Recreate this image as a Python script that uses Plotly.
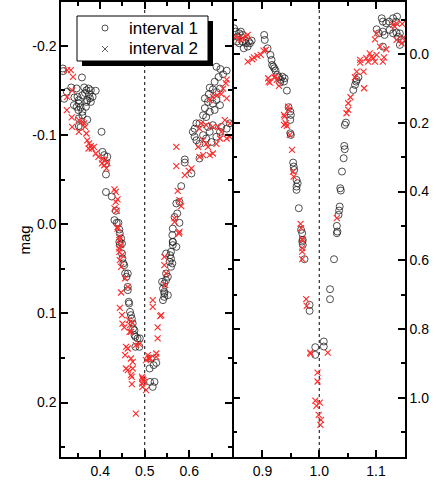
import plotly.graph_objects as go

# ---------------- data (phase, mag) ----------------
# left panel, interval 1 (open circles)
l1_x = [0.316,0.317,0.359,0.325,0.319,0.335,0.347,0.342,0.349,0.352,0.360,0.364,0.369,0.374,0.379,0.390,
        0.366,0.375,0.371,0.377,0.383,0.352,0.341,0.347,0.356,0.351,0.360,0.368,0.369,0.379,0.360,0.371,
        0.352,0.356,0.352,0.403,0.405,0.409,0.416,0.413,0.413,0.413,0.426,0.435,0.432,0.437,0.441,0.443,
        0.444,0.447,0.449,
        0.661,0.670,0.676,0.684,0.666,0.657,0.646,0.653,0.661,0.669,0.644,0.635,0.642,0.653,0.661,0.669,
        0.657,0.646,0.635,0.638,0.623,0.631,0.616,0.612,0.608,0.612,0.616,0.623,0.631,0.642,0.653,0.646,
        0.638,0.650,0.661,0.669,0.672,0.684,0.691,0.623,0.605,0.590,0.590,0.582,0.571,0.578,0.573,0.567,
        0.563,0.562,0.563,0.571,0.578,
        0.443,0.444,0.449,0.450,0.452,0.454,0.456,0.462,0.459,0.462,0.462,0.464,0.465,0.467,0.469,0.471,
        0.473,0.474,0.477,0.477,0.479,0.479,0.484,0.488,0.489,0.514,0.511,0.520,0.526,0.512,0.518,0.522,
        0.563,0.563,0.559,0.557,0.559,0.556,0.562,0.559,0.548,0.548,0.552,0.548,0.544,0.539,0.541,0.544,
        0.544,0.541,0.544,0.552]
l1_y = [-0.1745,-0.1715,-0.1644,-0.1484,-0.1405,-0.1532,-0.1521,-0.142,-0.1427,-0.139,-0.1446,-0.1532,-0.150,-0.152,-0.150,-0.1495,
        -0.147,-0.1457,-0.139,-0.141,-0.1427,-0.1353,-0.1334,-0.1315,-0.1308,-0.1278,-0.126,-0.1315,-0.137,-0.137,-0.122,-0.117,
        -0.1185,-0.109,-0.110,-0.1035,-0.081,-0.0774,-0.0755,-0.068,-0.0557,-0.036,-0.031,-0.015,-0.0045,-0.0015,-0.0015,0.006,
        0.0105,0.016,0.0217,
        -0.1764,-0.1738,-0.168,-0.172,-0.165,-0.1596,-0.153,-0.151,-0.148,-0.152,-0.1457,-0.141,-0.137,-0.135,-0.139,-0.1334,
        -0.128,-0.126,-0.130,-0.120,-0.113,-0.122,-0.113,-0.107,-0.1035,-0.098,-0.094,-0.090,-0.0998,-0.109,-0.111,-0.1035,
        -0.096,-0.092,-0.098,-0.1035,-0.109,-0.107,-0.113,-0.0736,-0.0568,-0.0725,-0.069,-0.0426,-0.0232,-0.025,-0.012,-0.008,
        0.005,0.0123,0.020,0.0254,-0.0015,
        0.0198,0.0235,0.0329,0.0385,0.044,0.046,0.0553,0.0553,0.059,0.0703,0.074,0.0871,0.089,0.0983,0.102,0.1058,
        0.1114,0.117,0.119,0.1244,0.1263,0.1375,0.128,0.1375,0.128,0.1506,0.1618,0.158,0.1555,0.1768,0.1824,0.1768,
        0.0198,0.0235,0.031,0.0348,0.0385,0.0422,0.044,0.0478,0.0329,0.0553,0.059,0.0628,0.0665,0.0646,0.0721,0.0759,
        0.0815,0.0852,0.0777,0.0796]

# left panel, interval 2 (crosses)
l2_x = [0.326,0.334,0.339,0.337,0.326,0.325,0.336,0.337,0.352,0.352,0.360,0.364,0.366,0.369,0.371,0.375,
        0.379,0.381,0.386,0.374,0.390,0.396,0.405,0.404,0.409,0.411,0.414,0.416,0.432,0.435,0.439,0.435,
        0.432,0.437,0.439,0.439,0.444,0.443,0.447,
        0.571,0.571,0.574,0.578,0.582,0.567,0.567,0.578,0.577,0.590,0.599,0.605,0.620,0.623,0.631,0.638,
        0.642,0.661,0.669,0.653,0.646,0.631,0.623,0.627,0.638,0.653,0.665,0.672,0.684,0.691,0.680,0.691,
        0.672,0.684,0.676,0.682,0.684,0.663,0.653,0.646,
        0.443,0.443,0.444,0.449,0.447,0.456,0.462,0.447,0.444,0.449,0.450,0.454,0.464,0.473,0.467,0.469,
        0.466,0.458,0.462,0.480,0.488,0.456,0.469,0.473,0.458,0.462,0.473,0.469,0.471,0.471,0.494,0.495,
        0.497,0.494,0.499,0.495,0.503,0.507,0.509,0.512,0.503,0.526,0.526,0.529,0.529,0.537,0.535,0.518,
        0.518,0.544,0.544,0.548,0.546,0.480]
l2_y = [-0.1726,-0.1726,-0.165,-0.150,-0.1427,-0.1278,-0.1196,-0.109,-0.1035,-0.1166,-0.1147,-0.113,-0.109,-0.1016,-0.094,-0.0904,
        -0.0874,-0.0848,-0.0867,-0.0848,-0.0792,-0.0755,-0.0725,-0.068,-0.066,-0.0717,-0.0624,-0.0688,-0.0389,-0.0362,-0.0277,-0.025,
        -0.0176,-0.015,0.003,0.0049,0.0142,0.018,0.0235,
        -0.0867,-0.065,-0.0374,-0.0269,-0.0202,-0.0064,-0.0026,0.0086,0.0105,-0.0549,-0.0598,-0.0624,-0.0867,-0.0755,-0.094,-0.090,
        -0.0867,-0.090,-0.096,-0.0792,-0.0774,-0.0774,-0.107,-0.113,-0.111,-0.109,-0.109,-0.1035,-0.096,-0.098,-0.1166,-0.113,
        -0.1457,-0.141,-0.152,-0.158,-0.162,-0.1446,-0.1427,-0.139,
        0.0273,0.031,0.0404,0.0348,0.0478,0.0609,0.0703,0.0766,0.0938,0.102,0.1114,0.1158,0.1076,0.1106,0.1132,0.1207,
        0.1207,0.1375,0.1394,0.1357,0.1345,0.1469,0.1506,0.1544,0.1618,0.1637,0.1618,0.1693,0.1712,0.1794,0.1712,0.173,
        0.1749,0.1786,0.1768,0.1824,0.1861,0.1469,0.1506,0.1506,0.1525,0.145,0.1487,0.128,0.1158,0.102,0.1031,0.0927,
        0.0852,0.046,0.0366,0.0553,0.0684,0.2123]

# right panel, interval 1 (open circles)
r1_x = [0.850,0.853,0.856,0.859,0.862,0.865,0.855,0.859,0.865,0.869,0.871,0.876,0.881,0.867,0.874,0.878,
        0.903,0.904,0.909,0.914,0.916,0.917,0.919,0.921,0.923,0.926,0.929,0.932,0.935,0.938,0.939,0.931,
        0.943,0.946,0.949,0.950,0.949,0.949,0.950,0.954,0.955,0.956,0.960,0.962,0.960,0.960,0.964,0.968,
        0.970,0.971,0.970,0.971,0.974,0.983,0.983,0.993,0.993,1.008,1.008,1.019,1.019,1.026,
        1.110,1.112,1.118,1.123,1.130,1.135,1.137,1.101,1.105,1.112,1.115,1.124,1.130,1.136,1.139,1.142,
        1.145,1.142,1.112,1.060,1.063,1.066,1.069,1.065,1.045,1.047,1.044,1.045,1.043,1.040,1.037,1.038,
        1.036,1.035,1.034,1.031,1.032,1.031]
r1_y = [-0.0746,-0.0649,-0.0504,-0.060,-0.065,-0.0552,-0.0359,-0.031,-0.0359,-0.0407,-0.031,-0.0359,-0.0388,-0.0165,-0.0213,-0.031,
        -0.0552,-0.0407,-0.0165,0.0029,0.0174,0.032,0.0368,0.0417,0.0484,0.061,0.0678,0.0756,0.0659,0.0804,0.0707,0.0833,
        0.1066,0.155,0.1676,0.1773,0.1919,0.2306,0.2355,0.3159,0.3275,0.3372,0.3663,0.376,0.3857,0.3953,0.4486,0.5116,
        0.5213,0.5407,0.5455,0.5552,0.5969,0.7297,0.7471,0.8527,0.875,0.8362,0.8508,0.6841,0.7132,0.5969,
        -0.1037,-0.094,-0.0891,-0.094,-0.1037,-0.094,-0.1085,-0.0717,-0.060,-0.0649,-0.0552,-0.0698,-0.060,-0.062,-0.0504,-0.060,
        -0.0407,-0.0262,-0.0213,0.1047,0.0901,0.0756,0.0678,0.0804,0.2064,0.1996,0.2674,0.2771,0.3033,0.342,0.3905,0.3973,
        0.4438,0.4554,0.468,0.50,0.5165,0.5213]

# right panel, interval 2 (crosses)
r2_x = [0.853,0.859,0.862,0.865,0.871,0.874,0.874,0.882,0.885,0.891,0.897,0.902,0.906,0.910,0.911,0.913,
        0.921,0.923,0.925,0.929,0.938,0.939,0.941,0.938,0.943,0.945,0.946,0.948,0.952,0.954,0.955,0.967,
        0.968,0.970,0.970,0.970,0.970,0.970,0.977,0.978,0.984,0.985,1.015,0.997,0.997,0.993,1.001,0.995,
        0.999,1.003,1.002,
        1.098,1.101,1.107,1.118,1.130,1.133,1.136,1.146,1.147,1.136,1.145,1.089,1.092,1.095,1.098,1.101,
        1.083,1.086,1.072,1.072,1.114,1.112,1.078,1.066,1.063,1.079,1.055,1.051,1.051,1.048,1.031]
r2_y = [-0.0504,-0.0455,-0.0407,-0.0455,-0.0504,-0.0552,0.0223,0.0155,0.0097,0.0058,0.0029,-0.0097,-0.0116,0.0707,0.0804,0.0833,
        0.0678,0.0659,0.0756,0.093,0.1773,0.1822,0.2016,0.2064,0.2093,0.1531,0.1628,0.2355,0.2791,0.342,0.3566,0.4942,
        0.5068,0.5388,0.5649,0.5407,0.5746,0.5969,0.7132,0.7326,0.8682,0.8721,0.8682,0.9264,0.9525,1.0078,1.0136,1.0233,
        1.0494,1.064,1.0785,
        -0.0426,-0.060,-0.0213,-0.0136,-0.0843,-0.0795,-0.0891,-0.0872,-0.0455,-0.0407,-0.031,-0.0019,0.0078,0.0126,0.0223,0.0029,
        0.0126,0.0223,0.0174,0.0252,0.0097,0.0223,0.0514,0.0514,0.0678,0.0998,0.126,0.1434,0.1628,0.1725,0.4777]

left_ticks = [-0.2, -0.1, 0.0, 0.1, 0.2]
left_ticktext = ["-0.2", "-0.1", "0.0", "0.1", "0.2"]
right_ticks = [0.0, 0.2, 0.4, 0.6, 0.8, 1.0]
right_ticktext = ["0.0", "0.2", "0.4", "0.6", "0.8", "1.0"]
lx_ticks = [0.4, 0.5, 0.6]
lx_ticktext = ["0.4", "0.5", "0.6"]
rx_ticks = [0.9, 1.0, 1.1]
rx_ticktext = ["0.9", "1.0", "1.1"]
series_names = ["interval 1", "interval 2"]

# ---------------- figure ----------------
W, H = 436, 485
FONT = "Arial, Liberation Sans, sans-serif"
CIRC_COL = "#222222"
CROSS_COL = "#ff2a2a"
circ = dict(symbol="circle-open", size=7, color=CIRC_COL, line=dict(width=0.8, color=CIRC_COL))
cross = dict(symbol="x-thin-open", size=6, color=CROSS_COL, line=dict(width=1.1, color=CROSS_COL))

fig = go.Figure()
fig.add_trace(go.Scatter(x=l1_x, y=l1_y, mode="markers", marker=circ, name=series_names[0],
                         xaxis="x", yaxis="y", showlegend=False))
fig.add_trace(go.Scatter(x=l2_x, y=l2_y, mode="markers", marker=cross, name=series_names[1],
                         xaxis="x", yaxis="y", showlegend=False))
fig.add_trace(go.Scatter(x=r1_x, y=r1_y, mode="markers", marker=circ, name=series_names[0],
                         showlegend=False, xaxis="x2", yaxis="y2"))
fig.add_trace(go.Scatter(x=r2_x, y=r2_y, mode="markers", marker=cross, name=series_names[1],
                         showlegend=False, xaxis="x2", yaxis="y2"))

def px_x(p):
    return p / W

def px_y(p):
    return 1 - p / H

x1d = [px_x(61), px_x(232)]
x2d = [px_x(233.5), px_x(405)]
yd = [px_y(457), px_y(2)]

axis_common = dict(showgrid=False, zeroline=False, showline=True, linecolor="black", linewidth=1.5,
                   ticks="inside", ticklen=7, tickwidth=1.5, tickcolor="black", mirror="ticks",
                   tickfont=dict(family=FONT, size=14, color="black"), automargin=False,
                   tickmode="array")
minor_common = dict(tick0=0, ticks="inside", ticklen=4, tickwidth=1.5, tickcolor="black")

fig.update_layout(
    width=W, height=H, margin=dict(l=0, r=0, t=0, b=0),
    paper_bgcolor="white", plot_bgcolor="white", showlegend=False,
    xaxis=dict(domain=x1d, range=[0.312, 0.696], anchor="y", tickvals=lx_ticks, ticktext=lx_ticktext,
               minor=dict(dtick=0.05, **minor_common), **axis_common),
    yaxis=dict(domain=yd, range=[0.261, -0.249], anchor="x", tickvals=left_ticks, ticktext=left_ticktext,
               minor=dict(dtick=0.05, **minor_common), **axis_common),
    xaxis2=dict(domain=x2d, range=[0.849, 1.151], anchor="y2", tickvals=rx_ticks, ticktext=rx_ticktext,
                minor=dict(dtick=0.05, **minor_common), **axis_common),
    yaxis2=dict(domain=yd, range=[1.172, -0.151], anchor="x2", side="right", tickvals=right_ticks,
                ticktext=right_ticktext, minor=dict(dtick=0.1, **minor_common), **axis_common),
    font=dict(family=FONT, color="black"),
)

# dotted reference lines
fig.add_shape(type="line", xref="x", yref="paper", x0=0.5, x1=0.5, y0=yd[0], y1=yd[1],
              line=dict(color="black", width=1, dash="dot"), layer="below")
fig.add_shape(type="line", xref="x2", yref="paper", x0=1.0, x1=1.0, y0=yd[0], y1=yd[1],
              line=dict(color="black", width=1, dash="dot"), layer="below")

# legend box with shadow (drawn manually)
fig.add_shape(type="rect", xref="paper", yref="paper", x0=px_x(82), x1=px_x(213), y0=px_y(66), y1=px_y(21),
              fillcolor="black", line=dict(width=0), layer="above")
fig.add_shape(type="rect", xref="paper", yref="paper", x0=px_x(77), x1=px_x(208), y0=px_y(61), y1=px_y(16),
              fillcolor="white", line=dict(width=1, color="black"), layer="above")
# legend glyphs
fig.add_shape(type="circle", xref="paper", yref="paper", x0=px_x(102), x1=px_x(108), y0=px_y(31), y1=px_y(25),
              line=dict(width=0.8, color=CIRC_COL), fillcolor="rgba(0,0,0,0)", layer="above")
for a, b in [((102, 46), (108, 52)), ((102, 52), (108, 46))]:
    fig.add_shape(type="line", xref="paper", yref="paper", x0=px_x(a[0]), y0=px_y(a[1]),
                  x1=px_x(b[0]), y1=px_y(b[1]), line=dict(width=0.8, color="#333333"), layer="above")
for name, yy in zip(series_names, [28, 49]):
    fig.add_annotation(text=name, xref="paper", yref="paper", x=px_x(127), y=px_y(yy), xanchor="left",
                       yanchor="middle", showarrow=False, font=dict(family=FONT, size=17, color="black"))

fig.add_annotation(text="mag", xref="paper", yref="paper", x=px_x(13), y=px_y(240), showarrow=False,
                   textangle=-90, font=dict(family=FONT, size=15, color="black"))

fig.write_html("out.html", config={"displayModeBar": False},
               post_script="document.body.style.margin='0';")
